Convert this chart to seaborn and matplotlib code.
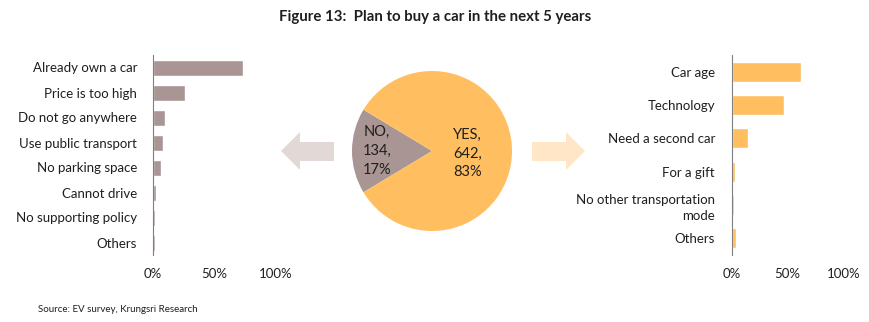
import matplotlib
matplotlib.use("Agg")
import matplotlib.pyplot as plt
from matplotlib.patches import Polygon
from matplotlib.ticker import PercentFormatter
import seaborn as sns
import pandas as pd

# Survey data
no_reasons = ["Already own a car", "Price is too high", "Do not go anywhere",
              "Use public transport", "No parking space", "Cannot drive",
              "No supporting policy", "Others"]
no_shares = [0.735, 0.265, 0.10, 0.085, 0.07, 0.025, 0.02, 0.02]

yes_reasons = ["Car age", "Technology", "Need a second car", "For a gift",
               "No other transportation\nmode", "Others"]
yes_shares = [0.62, 0.47, 0.146, 0.03, 0.025, 0.035]

pie_labels = ["NO", "YES"]
pie_counts = [134, 642]

x_ticks = [0, 0.5, 1.0]

BROWN = "#A99593"
ORANGE = "#FFBF60"
TEXT = "#1f1f1f"
FONT = ["Lato", "DejaVu Sans"]

sns.set_theme(style="white")
plt.rcParams["font.family"] = FONT
plt.rcParams["text.color"] = TEXT
plt.rcParams["xtick.color"] = TEXT
plt.rcParams["ytick.color"] = TEXT

W, H = 870, 322
fig = plt.figure(figsize=(W / 100, H / 100), dpi=100)


def px_axes(x0, y0, x1, y1):
    return fig.add_axes([x0 / W, 1 - y1 / H, (x1 - x0) / W, (y1 - y0) / H])


def style_bar_axes(ax, pad):
    ax.set_xlim(0, 1.0)
    ax.set_xticks(x_ticks)
    ax.xaxis.set_major_formatter(PercentFormatter(1.0, decimals=0))
    ax.set_xlabel("")
    ax.set_ylabel("")
    for s in ["top", "right", "bottom"]:
        ax.spines[s].set_visible(False)
    ax.spines["left"].set_color("#7f7f7f")
    ax.spines["left"].set_linewidth(0.8)
    ax.tick_params(axis="both", length=0, labelsize=9.5)
    ax.tick_params(axis="y", pad=pad)
    ax.tick_params(axis="x", pad=9)


# Left: reasons for not planning to buy
ax_l = px_axes(152.5, 55, 275.5, 255)
df_l = pd.DataFrame({"reason": no_reasons, "share": no_shares})
sns.barplot(data=df_l, x="share", y="reason", orient="h", color=BROWN,
            saturation=1, width=0.64, ax=ax_l)
style_bar_axes(ax_l, 11)

# Right: reasons for planning to buy
ax_r = px_axes(731.7, 55, 843.7, 255)
df_r = pd.DataFrame({"reason": yes_reasons, "share": yes_shares})
sns.barplot(data=df_r, x="share", y="reason", orient="h", color=ORANGE,
            saturation=1, width=0.6, ax=ax_r)
style_bar_axes(ax_r, 12)
for lbl in ax_r.get_yticklabels():
    lbl.set_horizontalalignment("right")
    lbl.set_multialignment("right")
    lbl.set_linespacing(1.45)

# Centre: yes/no pie
ax_p = px_axes(352, 71, 512, 231)
total = sum(pie_counts)
no_frac = pie_counts[0] / total
ax_p.pie(pie_counts, colors=[BROWN, ORANGE], startangle=180 - 360 * no_frac / 2,
         counterclock=True, radius=1.0, wedgeprops=dict(linewidth=0))
ax_p.set_xlim(-1, 1)
ax_p.set_ylim(-1, 1)
ax_p.set_aspect("equal")
ax_p.axis("off")
label_pos = [(-0.69, 0.0), (0.44, -0.03)]
for (lx, ly), name, cnt in zip(label_pos, pie_labels, pie_counts):
    ax_p.text(lx, ly, f"{name},\n{cnt},\n{cnt / total:.0%}", ha="center",
              va="center", fontsize=10.5, linespacing=1.45, color=TEXT)

# Decorative arrows linking the pie to each breakdown
ax_o = fig.add_axes([0, 0, 1, 1], zorder=-1)
ax_o.set_xlim(0, W)
ax_o.set_ylim(H, 0)
ax_o.axis("off")
ax_o.add_patch(Polygon([(281, 151), (300, 132), (300, 142), (334, 142),
                        (334, 161), (300, 161), (300, 170)],
                       closed=True, color="#E2D8D6", lw=0))
ax_o.add_patch(Polygon([(585, 151), (566, 132), (566, 142), (532, 142),
                        (532, 161), (566, 161), (566, 170)],
                       closed=True, color="#FEE6C6", lw=0))

fig.text(0.5, 1 - 17 / H, "Figure 13:  Plan to buy a car in the next 5 years",
         ha="center", va="center", fontsize=10.8, fontweight="bold")
fig.text(38 / W, 1 - 309 / H, "Source: EV survey, Krungsri Research",
         ha="left", va="center", fontsize=7)

fig.savefig("out.png", dpi=100)
